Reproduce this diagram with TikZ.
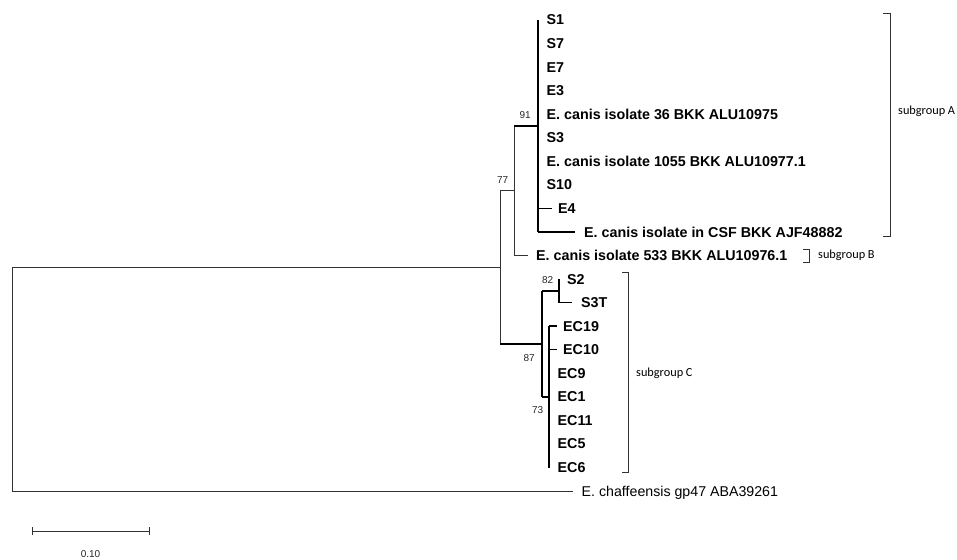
\documentclass[tikz,border=0pt]{standalone}
\usepackage{fontspec}
\setmainfont{Liberation Sans}
\newfontfamily\subfont{Carlito}
\begin{document}
\begin{tikzpicture}[x=1pt,y=-1pt,
  thinb/.style={line width=0.8pt, draw=black!80},
  thickb/.style={line width=1.5pt, draw=black},
  taxon/.style={anchor=base west, inner sep=0pt, font=\fontsize{14.3}{16}\selectfont\bfseries},
  plainlab/.style={anchor=base west, inner sep=0pt, font=\fontsize{14.2}{16}\selectfont},
  boot/.style={anchor=base east, inner sep=0pt, font=\fontsize{10}{12}\selectfont, text=black!85},
  sublab/.style={anchor=west, inner sep=0pt, font=\subfont\fontsize{12.3}{14}\selectfont},
  brk/.style={line width=0.8pt, draw=black!80}]
\useasboundingbox (0,0) rectangle (957,559);

% ---- internal node coordinates ----
\coordinate (rootT) at (12,267.3);
\coordinate (rootB) at (12,491);
\coordinate (n77T) at (500,190.7);
\coordinate (n77M) at (500,267.3);
\coordinate (n77B) at (500,343.8);
\coordinate (nABT) at (514,126);
\coordinate (nABM) at (514,190.7);
\coordinate (nABB) at (514,255.5);
\coordinate (n91T) at (538,20);
\coordinate (n91M) at (538,126);
\coordinate (n91B) at (538,232);
\coordinate (n87T) at (542,290.8);
\coordinate (n87M) at (542,343.8);
\coordinate (n87B) at (542,396.8);
\coordinate (n82T) at (559,279);
\coordinate (n82M) at (559,290.8);
\coordinate (n82B) at (559,302.6);
\coordinate (n73T) at (549,326.2);
\coordinate (n73M) at (549,396.8);
\coordinate (n73B) at (549,467.5);

% ---- branch tips ----
\coordinate (tE4) at (551.5,208.4);
\coordinate (tCSF) at (575,232);
\coordinate (t533) at (528,255.5);
\coordinate (tS3T) at (572,302.6);
\coordinate (tEC19) at (557,326.2);
\coordinate (tEC10) at (557,349.7);
\coordinate (tCh) at (573,491);

% ---- thin (outer) branches ----
\draw[thinb] (rootT) -- (rootB);
\draw[thinb] (rootT) -- (n77M);
\draw[thinb] (rootB) -- (tCh);
\draw[thinb] (n77T) -- (n77B);
\draw[thinb] (n77T) -- (nABM);
\draw[thinb] (nABT) -- (nABB);
\draw[thinb] (nABB) -- (t533);

% ---- thick (inner) branches ----
\draw[thickb] (nABT) -- (n91M);
\draw[thickb] (n91T) -- (n91B);
\draw[thickb] (n91B) -- (tCSF);
\draw[thickb] (n91T |- tE4) -- (tE4);
\draw[thickb] (n77B) -- (n87M);
\draw[thickb] (n87T) -- (n87B);
\draw[thickb] (n87T) -- (n82M);
\draw[thickb] (n82T) -- (n82B);
\draw[thickb] (n82B) -- (tS3T);
\draw[thickb] (n87B) -- (n73M);
\draw[thickb] (n73T) -- (n73B);
\draw[thickb] (n73T) -- (tEC19);
\draw[thickb] (n73T |- tEC10) -- (tEC10);

% ---- taxon labels ----
\node[taxon] (S1) at (546.5,25) {S1};
\node[taxon] (S7) at (546.5,48.5) {S7};
\node[taxon] (E7) at (546.5,72.1) {E7};
\node[taxon] (E3) at (546.5,95.7) {E3};
\node[taxon] (L36) at (546.5,119.2) {E. canis isolate 36 BKK ALU10975};
\node[taxon] (S3) at (546.5,142.8) {S3};
\node[taxon] (L1055) at (546.5,166.3) {E. canis isolate 1055 BKK ALU10977.1};
\node[taxon] (S10) at (546.5,189.9) {S10};
\node[taxon] (E4) at (558,213.4) {E4};
\node[taxon] (CSF) at (584,237) {E. canis isolate in CSF BKK AJF48882};
\node[taxon] (L533) at (536,260.5) {E. canis isolate 533 BKK ALU10976.1};
\node[taxon] (S2) at (567,284) {S2};
\node[taxon] (S3T) at (581,307.6) {S3T};
\node[taxon] (EC19) at (563,331.2) {EC19};
\node[taxon] (EC10) at (563,354.7) {EC10};
\node[taxon] (EC9) at (557.5,378.3) {EC9};
\node[taxon] (EC1) at (557.5,401.8) {EC1};
\node[taxon] (EC11) at (557.5,425.4) {EC11};
\node[taxon] (EC5) at (557.5,448.9) {EC5};
\node[taxon] (EC6) at (557.5,472.5) {EC6};
\node[plainlab] (Ch) at (581.5,496) {E. chaffeensis gp47 ABA39261};

% ---- bootstrap values ----
\node[boot] (b91) at (531,118.8) {91};
\node[boot] (b77) at (508.5,183.8) {77};
\node[boot] (b82) at (553.5,283.8) {82};
\node[boot] (b87) at (535,361.8) {87};
\node[boot] (b73) at (543.5,413.8) {73};

% ---- subgroup brackets ----
\coordinate (bAT) at (890,13.5);
\coordinate (bAB) at (890,236);
\draw[brk] ([xshift=-7pt]bAT) -- (bAT) -- (bAB) -- ([xshift=-7pt]bAB);
\node[sublab] (subA) at (898,111) {subgroup A};

\coordinate (bBT) at (809,249);
\coordinate (bBB) at (809,262);
\draw[brk] ([xshift=-6pt]bBT) -- (bBT) -- (bBB) -- ([xshift=-6pt]bBB);
\node[sublab] (subB) at (818,255.5) {subgroup B};

\coordinate (bCT) at (628,272.5);
\coordinate (bCB) at (628,472);
\draw[brk] ([xshift=-6pt]bCT) -- (bCT) -- (bCB) -- ([xshift=-6pt]bCB);
\node[sublab] (subC) at (636,373) {subgroup C};

% ---- scale bar ----
\coordinate (sbL) at (32,531);
\coordinate (sbR) at (149,531);
\draw[thinb] (sbL) -- (sbR);
\draw[thinb] ([yshift=-4pt]sbL) -- ([yshift=4pt]sbL);
\draw[thinb] ([yshift=-4pt]sbR) -- ([yshift=4pt]sbR);
\node[anchor=base, inner sep=0pt, font=\fontsize{10}{12}\selectfont, text=black!85] (sbLab) at (90.5,557.5) {0.10};
\end{tikzpicture}
\end{document}
